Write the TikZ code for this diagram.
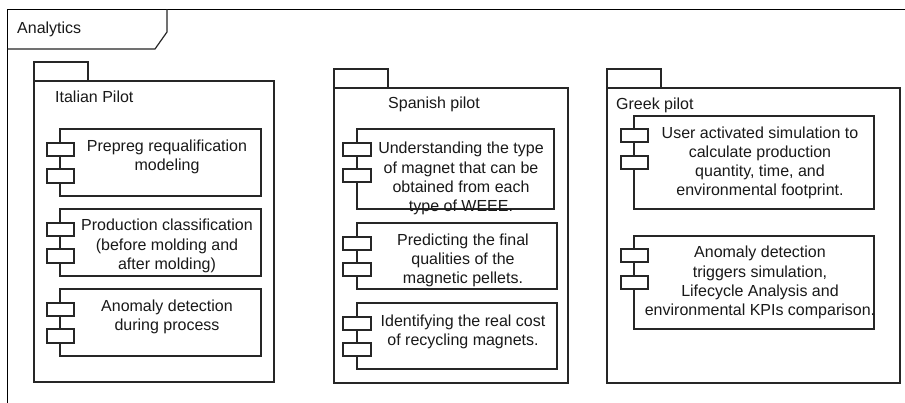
\documentclass[tikz,border=0pt]{standalone}
\usepackage{fontspec}
\setmainfont{Liberation Sans}
\begin{document}
\begin{tikzpicture}[x=1pt,y=-1pt,
  frameline/.style={draw=black,line width=1.4pt},
  pkgline/.style={draw=black!85,line width=1.2pt},
  compbox/.style={draw=black!85,line width=1.2pt,fill=white},
  port/.style={draw=black!85,line width=1.2pt,fill=white},
  txt/.style={font=\fontsize{16}{19.2}\selectfont,text=black!90,align=center,inner sep=0pt},
  lbl/.style={font=\fontsize{16}{19.2}\selectfont,text=black!90,anchor=west,inner sep=0pt}]
\useasboundingbox (0,0) rectangle (905,403);
\fill[white] (0,0) rectangle (905,403);

% outer frame and its name tag
\draw[frameline] (905,9.5) -- (7.5,9.5) -- (7.5,403);
\draw[pkgline] (7.5,49) -- (155,49) -- (167,32) -- (167,9.5);
\node[lbl] (analytics) at (17,29) {Analytics};

% Italian pilot package
\draw[pkgline] (34,81) -- (34,62) -- (88,62) -- (88,81);
\draw[pkgline] (34,81) rectangle (274,382);
\node[lbl] (itlbl) at (55,97) {Italian Pilot};
\draw[compbox] (60,129) rectangle (261,196);
\draw[port] (47,143) rectangle (74,156);
\draw[port] (47,169) rectangle (74,183);
\node[txt] (it1) at (167,156.5) {Prepreg requalification\\modeling};
\draw[compbox] (60,209) rectangle (261,276);
\draw[port] (47,223) rectangle (74,236);
\draw[port] (47,249) rectangle (74,263);
\node[txt] (it2) at (167,246) {Production classification\\(before molding and\\after molding)};
\draw[compbox] (60,289) rectangle (261,356);
\draw[port] (47,303) rectangle (74,316);
\draw[port] (47,329) rectangle (74,343);
\node[txt] (it3) at (167,316.5) {Anomaly detection\\during process};

% Spanish pilot package
\draw[pkgline] (334,88) -- (334,69) -- (388,69) -- (388,88);
\draw[pkgline] (334,88) rectangle (568,383);
\node[lbl] (eslbl) at (388,104) {Spanish pilot};
\draw[compbox] (357,129) rectangle (554,209);
\draw[port] (343,143) rectangle (371,156);
\draw[port] (343,169) rectangle (371,182);
\node[txt] (es1) at (461,178.5) {Understanding the type\\of magnet that can be\\obtained from each\\type of WEEE.};
\draw[compbox] (357,223) rectangle (557,289);
\draw[port] (343,237) rectangle (371,250);
\draw[port] (343,263) rectangle (371,276);
\node[txt] (es2) at (463,260.5) {Predicting the final\\qualities of the\\magnetic pellets.};
\draw[compbox] (357,303) rectangle (557,369);
\draw[port] (343,317) rectangle (371,330);
\draw[port] (343,343) rectangle (371,356);
\node[txt] (es3) at (463,331.5) {Identifying the real cost\\of recycling magnets.};

% Greek pilot package
\draw[pkgline] (607,88) -- (607,69) -- (661,69) -- (661,88);
\draw[pkgline] (607,88) rectangle (900,383);
\node[lbl] (grlbl) at (616,105) {Greek pilot};
\draw[compbox] (634,116) rectangle (874,209);
\draw[port] (621,129) rectangle (648,142);
\draw[port] (621,156) rectangle (648,169);
\node[txt] (gr1) at (760,163) {User activated simulation to\\calculate production\\quantity, time, and\\environmental footprint.};
\draw[compbox] (634,236) rectangle (874,329);
\draw[port] (621,249) rectangle (648,262);
\draw[port] (621,276) rectangle (648,289);
\node[txt] (gr2) at (760,282.5) {Anomaly detection\\triggers simulation,\\Lifecycle Analysis and\\environmental KPIs comparison.};
\end{tikzpicture}
\end{document}
